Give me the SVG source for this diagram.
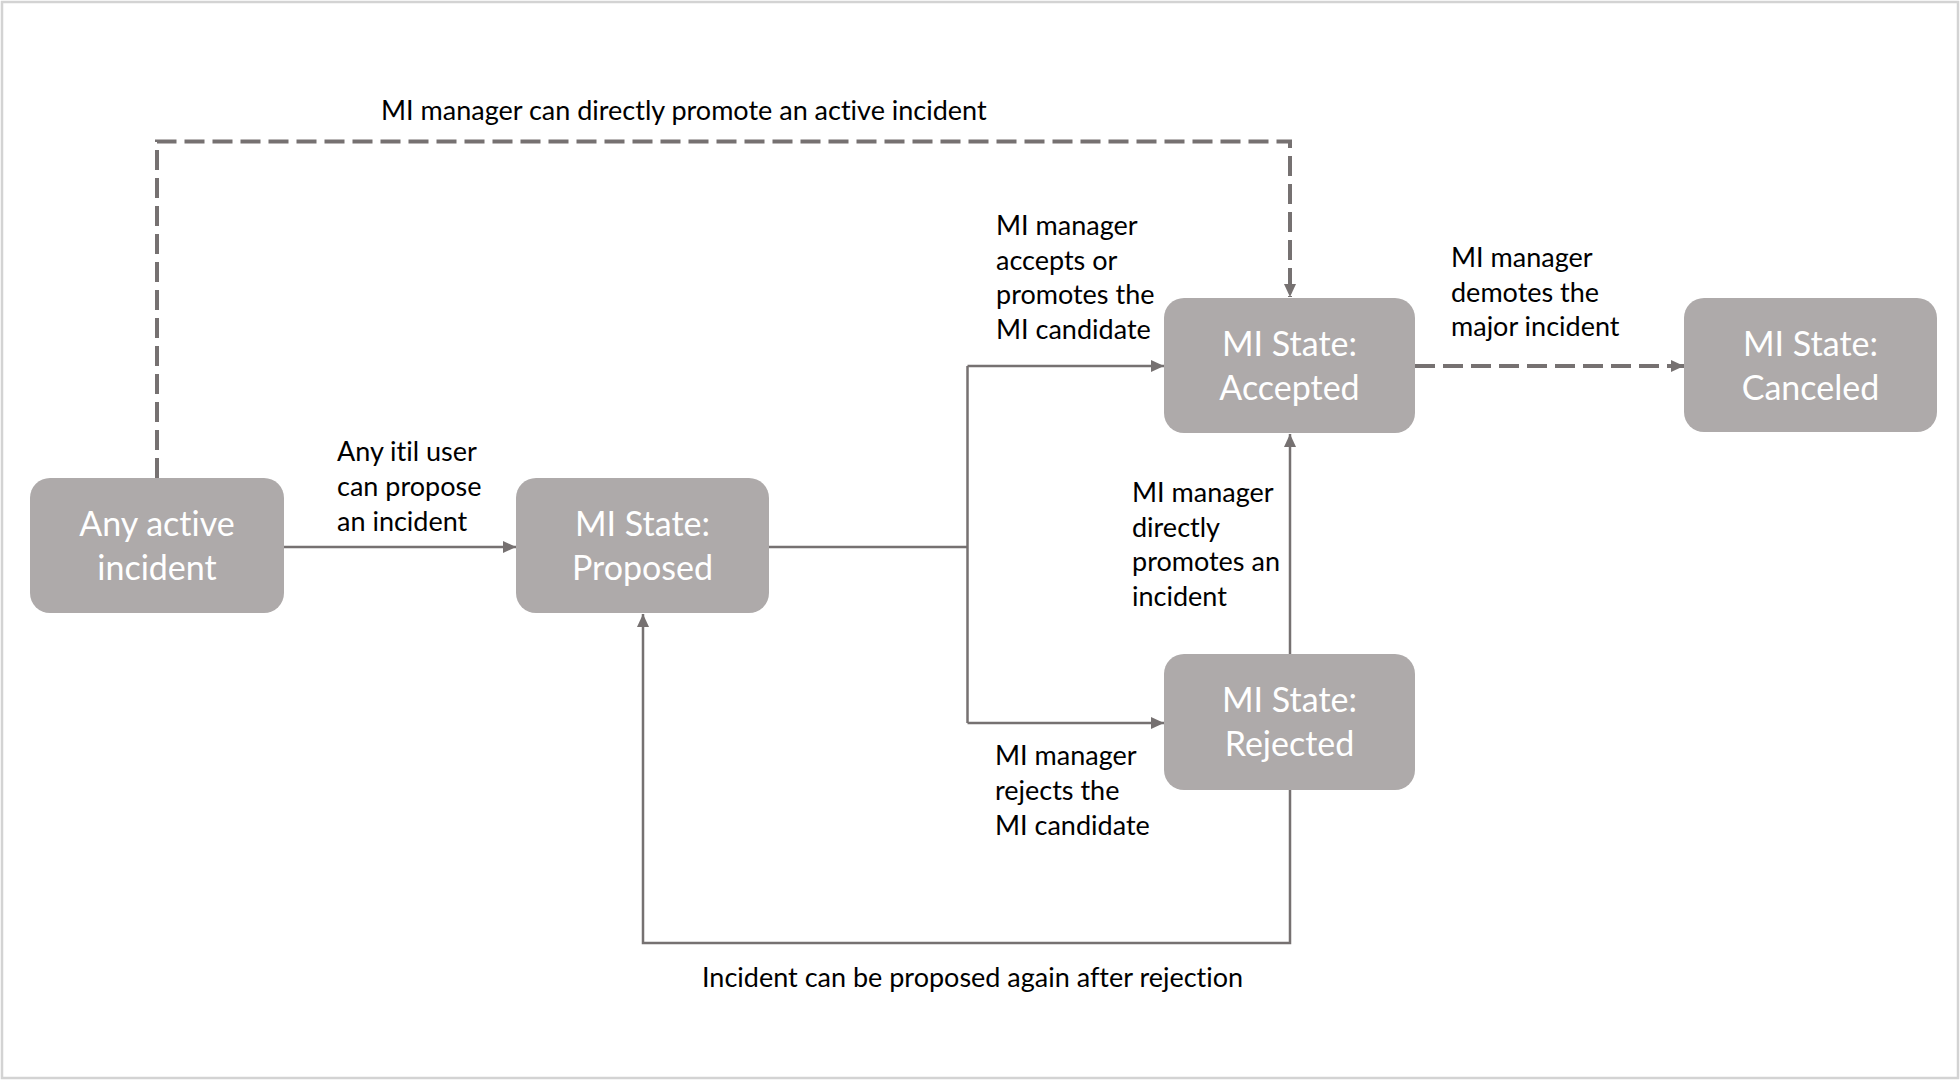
<svg xmlns="http://www.w3.org/2000/svg" width="1960" height="1080" viewBox="0 0 1960 1080">
<defs>
<style>
.box{fill:#AEAAAA;}
.bt{font-family:Lato,"Liberation Sans",sans-serif;font-size:34px;fill:#FFFFFF;text-anchor:middle;font-variant-ligatures:none;}
.lb{font-family:Lato,"Liberation Sans",sans-serif;font-size:27px;fill:#000000;font-variant-ligatures:none;}
.ln{fill:none;stroke:#767171;stroke-width:2.5;}
.dl{fill:none;stroke:#767171;stroke-width:4;stroke-dasharray:20 8;}
</style>
<marker id="ah" markerUnits="userSpaceOnUse" markerWidth="14" markerHeight="12" refX="13" refY="6" orient="auto">
<path d="M0,0 L13,6 L0,12 Z" fill="#767171"/>
</marker>
</defs>
<rect x="2" y="2" width="1956" height="1076" fill="#FFFFFF" stroke="#D3D3D3" stroke-width="2.5"/>

<g id="connectors">
<path class="dl" d="M157,478 L157,141.5 L1290,141.5 L1290,297" marker-end="url(#ah)"/>
<path class="ln" d="M284,547 L516,547" marker-end="url(#ah)"/>
<path class="ln" d="M769,547 L967.5,547"/>
<path class="ln" d="M967.5,366 L967.5,723"/>
<path class="ln" d="M967.5,366 L1164,366" marker-end="url(#ah)"/>
<path class="ln" d="M967.5,723 L1164,723" marker-end="url(#ah)"/>
<path class="dl" d="M1415,366 L1684,366" marker-end="url(#ah)"/>
<path class="ln" d="M1290,654 L1290,434" marker-end="url(#ah)"/>
<path class="ln" d="M1290,790 L1290,943 L643,943 L643,614" marker-end="url(#ah)"/>
</g>

<g id="labels">
<text class="lb" x="381" y="120">MI manager can directly promote an active incident</text>
<text class="lb" x="337"><tspan x="337" y="461">Any itil user</tspan><tspan x="337" y="496">can propose</tspan><tspan x="337" y="531">an incident</tspan></text>
<text class="lb"><tspan x="996" y="235">MI manager</tspan><tspan x="996" y="269.5">accepts or</tspan><tspan x="996" y="304">promotes the</tspan><tspan x="996" y="338.5">MI candidate</tspan></text>
<text class="lb"><tspan x="1451" y="267">MI manager</tspan><tspan x="1451" y="301.5">demotes the</tspan><tspan x="1451" y="336">major incident</tspan></text>
<text class="lb"><tspan x="1132" y="502">MI manager</tspan><tspan x="1132" y="536.5">directly</tspan><tspan x="1132" y="571">promotes an</tspan><tspan x="1132" y="605.5">incident</tspan></text>
<text class="lb"><tspan x="995" y="765">MI manager</tspan><tspan x="995" y="800">rejects the</tspan><tspan x="995" y="835">MI candidate</tspan></text>
<text class="lb" x="702" y="987">Incident can be proposed again after rejection</text>
</g>

<g id="node-any-active">
<rect class="box" x="30" y="478" width="254" height="135" rx="20"/>
<text class="bt"><tspan x="157" y="536">Any active</tspan><tspan x="157" y="580">incident</tspan></text>
</g>
<g id="node-proposed">
<rect class="box" x="516" y="478" width="253" height="135" rx="20"/>
<text class="bt"><tspan x="642.5" y="536">MI State:</tspan><tspan x="642.5" y="580">Proposed</tspan></text>
</g>
<g id="node-accepted">
<rect class="box" x="1164" y="298" width="251" height="135" rx="20"/>
<text class="bt"><tspan x="1289.5" y="356">MI State:</tspan><tspan x="1289.5" y="400">Accepted</tspan></text>
</g>
<g id="node-rejected">
<rect class="box" x="1164" y="654" width="251" height="136" rx="20"/>
<text class="bt"><tspan x="1289.5" y="712">MI State:</tspan><tspan x="1289.5" y="756">Rejected</tspan></text>
</g>
<g id="node-canceled">
<rect class="box" x="1684" y="298" width="253" height="134" rx="20"/>
<text class="bt"><tspan x="1810.5" y="356">MI State:</tspan><tspan x="1810.5" y="400">Canceled</tspan></text>
</g>
</svg>
